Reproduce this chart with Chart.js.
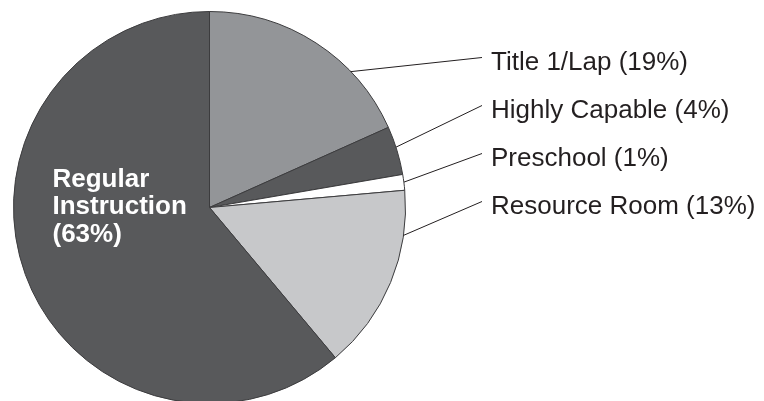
<!DOCTYPE html>
<html>
<head>
<meta charset="utf-8">
<script src="https://cdn.jsdelivr.net/npm/chart.js@4"></script>
<style>
  html, body { margin: 0; padding: 0; background: #fff; overflow: hidden; }
  #wrap { width: 764px; height: 420px; }
</style>
</head>
<body>
<div id="wrap"><canvas id="myChart" width="764" height="420"></canvas></div>
<script>
// slices, clockwise from 12 o'clock
const categories = ['Title 1/Lap', 'Highly Capable', 'Preschool', 'Resource Room', 'Regular Instruction'];
const shares = [18.3, 4.0, 1.3, 15.3, 61.1];           // slice sizes as drawn
const labelPercents = ['19%', '4%', '1%', '13%', '63%']; // printed in the labels
const sliceColors = ['#939598', '#58595b', '#ffffff', '#c7c8ca', '#58595b'];

// leader-line labels on the right, one per small slice
const calloutPlugin = {
    id: 'callouts',
    afterDraw(chart, args, opts) {
        const ctx = chart.ctx;
        const arcs = chart.getDatasetMeta(0).data;
        ctx.save();
        ctx.textBaseline = 'alphabetic';
        ctx.textAlign = 'left';

        for (let i = 0; i < 4; i++) {
            const arc = arcs[i];
            const a = arc.startAngle + opts.anchor[i] * (arc.endAngle - arc.startAngle);
            const x0 = arc.x + arc.outerRadius * Math.cos(a);
            const y0 = arc.y + arc.outerRadius * Math.sin(a);
            const base = opts.firstBaseline + i * opts.lineGap;

            ctx.strokeStyle = '#231f20';
            ctx.lineWidth = 1;
            ctx.beginPath();
            ctx.moveTo(x0, y0);
            ctx.lineTo(opts.lineEndX, base - 12);
            ctx.stroke();

            ctx.fillStyle = '#231f20';
            ctx.font = '26px "Liberation Sans", Arial, sans-serif';
            ctx.fillText(categories[i] + ' (' + labelPercents[i] + ')', opts.textX, base);
        }

        // big slice label, white bold inside
        const big = arcs[4];
        ctx.fillStyle = '#ffffff';
        ctx.font = 'bold 26px "Liberation Sans", Arial, sans-serif';
        const lines = ['Regular', 'Instruction', '(' + labelPercents[4] + ')'];
        lines.forEach((t, k) => {
            ctx.fillText(t, big.x + opts.innerDx, big.y + opts.innerDy + k * 27.5);
        });
        ctx.restore();
    }
};

const data = {
    labels: categories,
    datasets: [{
        data: shares,
        backgroundColor: sliceColors,
        borderColor: '#3c3c3e',
        borderWidth: 1
    }]
};

const config = {
    type: 'pie',
    data: data,
    options: {
        responsive: false,
        animation: false,
        layout: { padding: { left: 13, top: 11, right: 358, bottom: 16 } },
        plugins: {
            legend: { display: false },
            tooltip: { enabled: false },
            callouts: {
                anchor: [0.70, 0.43, 0.49, 0.24],
                lineEndX: 482,
                textX: 491,
                firstBaseline: 69.5,
                lineGap: 48,
                innerDx: -157,
                innerDy: -21
            }
        }
    },
    plugins: [calloutPlugin]
};

let myChart = new Chart(document.getElementById('myChart'), config);
</script>
</body>
</html>
